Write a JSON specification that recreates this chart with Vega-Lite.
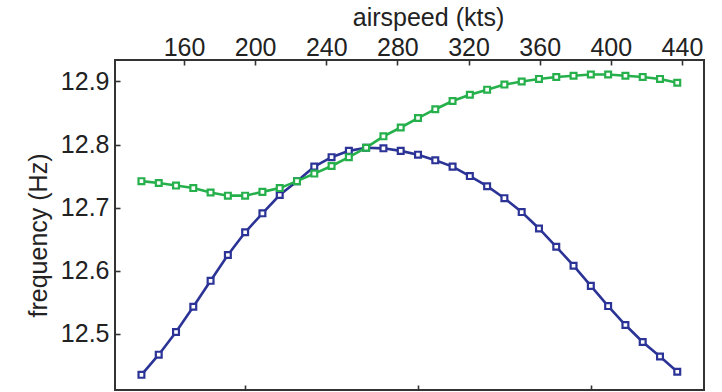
{
  "$schema": "https://vega.github.io/schema/vega-lite/v6.json",
  "width": 589,
  "height": 330,
  "autosize": {"type": "none"},
  "padding": {"left": 115, "top": 60, "right": 18, "bottom": 2},
  "background": "white",
  "config": {
    "view": {"stroke": "#333333", "strokeWidth": 2},
    "font": "Liberation Sans",
    "axis": {
      "domain": false,
      "grid": false,
      "tickSize": -5,
      "tickColor": "#333333",
      "tickWidth": 1.6,
      "labelFont": "Liberation Sans",
      "labelFontSize": 25,
      "labelColor": "#222222",
      "titleFont": "Liberation Sans",
      "titleFontSize": 25,
      "titleFontWeight": "normal",
      "titleColor": "#222222"
    }
  },
  "data": {
    "values": [
      {"speed": 136.07, "freq": 12.435, "series": "a"},
      {"speed": 145.79, "freq": 12.467, "series": "a"},
      {"speed": 155.51, "freq": 12.503, "series": "a"},
      {"speed": 165.23, "freq": 12.543, "series": "a"},
      {"speed": 174.95, "freq": 12.584, "series": "a"},
      {"speed": 184.67, "freq": 12.625, "series": "a"},
      {"speed": 194.38, "freq": 12.661, "series": "a"},
      {"speed": 204.1, "freq": 12.691, "series": "a"},
      {"speed": 213.82, "freq": 12.72, "series": "a"},
      {"speed": 223.54, "freq": 12.742, "series": "a"},
      {"speed": 233.26, "freq": 12.765, "series": "a"},
      {"speed": 242.98, "freq": 12.78, "series": "a"},
      {"speed": 252.7, "freq": 12.79, "series": "a"},
      {"speed": 262.42, "freq": 12.795, "series": "a"},
      {"speed": 272.14, "freq": 12.794, "series": "a"},
      {"speed": 281.86, "freq": 12.79, "series": "a"},
      {"speed": 291.58, "freq": 12.784, "series": "a"},
      {"speed": 301.3, "freq": 12.775, "series": "a"},
      {"speed": 311.02, "freq": 12.765, "series": "a"},
      {"speed": 320.74, "freq": 12.75, "series": "a"},
      {"speed": 330.45, "freq": 12.734, "series": "a"},
      {"speed": 340.17, "freq": 12.715, "series": "a"},
      {"speed": 349.89, "freq": 12.693, "series": "a"},
      {"speed": 359.61, "freq": 12.667, "series": "a"},
      {"speed": 369.33, "freq": 12.638, "series": "a"},
      {"speed": 379.05, "freq": 12.608, "series": "a"},
      {"speed": 388.77, "freq": 12.576, "series": "a"},
      {"speed": 398.49, "freq": 12.544, "series": "a"},
      {"speed": 408.21, "freq": 12.514, "series": "a"},
      {"speed": 417.93, "freq": 12.487, "series": "a"},
      {"speed": 427.65, "freq": 12.464, "series": "a"},
      {"speed": 437.37, "freq": 12.44, "series": "a"},
      {"speed": 136.07, "freq": 12.742, "series": "b"},
      {"speed": 145.79, "freq": 12.739, "series": "b"},
      {"speed": 155.51, "freq": 12.735, "series": "b"},
      {"speed": 165.23, "freq": 12.731, "series": "b"},
      {"speed": 174.95, "freq": 12.724, "series": "b"},
      {"speed": 184.67, "freq": 12.719, "series": "b"},
      {"speed": 194.38, "freq": 12.719, "series": "b"},
      {"speed": 204.1, "freq": 12.725, "series": "b"},
      {"speed": 213.82, "freq": 12.731, "series": "b"},
      {"speed": 223.54, "freq": 12.742, "series": "b"},
      {"speed": 233.26, "freq": 12.754, "series": "b"},
      {"speed": 242.98, "freq": 12.766, "series": "b"},
      {"speed": 252.7, "freq": 12.78, "series": "b"},
      {"speed": 262.42, "freq": 12.795, "series": "b"},
      {"speed": 272.14, "freq": 12.813, "series": "b"},
      {"speed": 281.86, "freq": 12.827, "series": "b"},
      {"speed": 291.58, "freq": 12.842, "series": "b"},
      {"speed": 301.3, "freq": 12.856, "series": "b"},
      {"speed": 311.02, "freq": 12.869, "series": "b"},
      {"speed": 320.74, "freq": 12.879, "series": "b"},
      {"speed": 330.45, "freq": 12.887, "series": "b"},
      {"speed": 340.17, "freq": 12.895, "series": "b"},
      {"speed": 349.89, "freq": 12.9, "series": "b"},
      {"speed": 359.61, "freq": 12.904, "series": "b"},
      {"speed": 369.33, "freq": 12.907, "series": "b"},
      {"speed": 379.05, "freq": 12.909, "series": "b"},
      {"speed": 388.77, "freq": 12.911, "series": "b"},
      {"speed": 398.49, "freq": 12.911, "series": "b"},
      {"speed": 408.21, "freq": 12.909, "series": "b"},
      {"speed": 417.93, "freq": 12.907, "series": "b"},
      {"speed": 427.65, "freq": 12.904, "series": "b"},
      {"speed": 437.37, "freq": 12.898, "series": "b"}
    ]
  },
  "resolve": {"axis": {"x": "independent"}},
  "layer": [
    {
      "mark": {"type": "line", "strokeWidth": 2.6},
      "encoding": {
        "x": {
          "field": "speed",
          "type": "quantitative",
          "scale": {"domain": [121.2, 452.4], "nice": false, "zero": false},
          "axis": {
            "orient": "top",
            "values": [160, 200, 240, 280, 320, 360, 400, 440],
            "labelPadding": 5,
            "title": "airspeed (kts)",
            "titleX": 313,
            "titleY": -35,
            "titleAlign": "center",
            "titleBaseline": "alphabetic",
            "titleAngle": 0
          }
        },
        "y": {
          "field": "freq",
          "type": "quantitative",
          "scale": {"domain": [12.411, 12.934], "nice": false, "zero": false},
          "axis": {
            "values": [12.5, 12.6, 12.7, 12.8, 12.9],
            "format": ".1f",
            "labelPadding": 11,
            "title": "frequency (Hz)",
            "titleX": -69,
            "titleY": 175,
            "titleAngle": 270,
            "titleAlign": "center",
            "titleBaseline": "alphabetic"
          }
        },
        "color": {
          "field": "series",
          "type": "nominal",
          "scale": {"domain": ["a", "b"], "range": ["#2b3396", "#25b04b"]},
          "legend": null
        }
      }
    },
    {
      "mark": {"type": "point", "shape": "square", "filled": false, "fill": "white", "fillOpacity": 1, "strokeWidth": 2.2, "size": 34, "opacity": 1},
      "encoding": {
        "x": {
          "field": "speed",
          "type": "quantitative",
          "axis": {
            "orient": "bottom",
            "values": [194.38, 291.58, 388.77],
            "labels": false,
            "title": null
          }
        },
        "y": {"field": "freq", "type": "quantitative"},
        "color": {
          "field": "series",
          "type": "nominal",
          "legend": null
        }
      }
    }
  ]
}
